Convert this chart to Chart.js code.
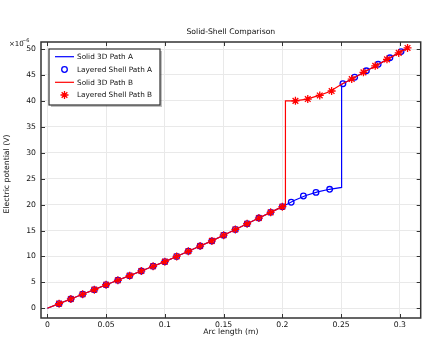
<!DOCTYPE html>
<html>
<head>
<meta charset="utf-8">
<script src="https://cdn.jsdelivr.net/npm/chart.js@4.4.1/dist/chart.umd.min.js"></script>
<style>
  html, body { margin: 0; padding: 0; background: #fff; }
  #wrap { width: 426px; height: 337px; }
</style>
</head>
<body>
<div id="wrap"><canvas id="chart"></canvas></div>
<script>
const FONT = '"DejaVu Sans", "Liberation Sans", sans-serif';

const xTicks = [0, 0.05, 0.1, 0.15, 0.2, 0.25, 0.3];
const yTicks = [0, 5, 10, 15, 20, 25, 30, 35, 40, 45, 50];

// Solid 3D Path A (blue line)
const solidAX = [0, 0.01, 0.02, 0.03, 0.04, 0.05, 0.06, 0.07, 0.08, 0.09, 0.10,
  0.11, 0.12, 0.13, 0.14, 0.15, 0.16, 0.17, 0.18, 0.19, 0.20,
  0.21, 0.22, 0.23, 0.24, 0.2504, 0.2504, 0.26, 0.27, 0.28, 0.29, 0.30, 0.3077];
const solidAY = [0, 0.9, 1.8, 2.7, 3.6, 4.55, 5.4, 6.3, 7.2, 8.1, 9.0,
  10.0, 11.0, 12.0, 13.0, 14.1, 15.2, 16.3, 17.4, 18.5, 19.6,
  20.8, 21.75, 22.45, 22.95, 23.3, 43.2, 44.3, 45.6, 46.8, 48.1, 49.4, 50.35];

// Layered Shell Path A (blue circles)
const shellAX = [0.01, 0.02, 0.03, 0.04, 0.05, 0.06, 0.07, 0.08, 0.09, 0.10,
  0.11, 0.12, 0.13, 0.14, 0.15, 0.16, 0.17, 0.18, 0.19, 0.20,
  0.2075, 0.2179, 0.2286, 0.2402, 0.2515, 0.2615, 0.2715, 0.2815, 0.2915, 0.3010];
const shellAY = [0.9, 1.8, 2.7, 3.6, 4.55, 5.4, 6.3, 7.2, 8.1, 9.0,
  10.0, 11.0, 12.0, 13.0, 14.1, 15.2, 16.3, 17.4, 18.5, 19.6,
  20.45, 21.65, 22.35, 22.95, 43.3, 44.55, 45.8, 47.05, 48.3, 49.5];

// Solid 3D Path B (red line)
const solidBX = [0, 0.01, 0.02, 0.03, 0.04, 0.05, 0.06, 0.07, 0.08, 0.09, 0.10,
  0.11, 0.12, 0.13, 0.14, 0.15, 0.16, 0.17, 0.18, 0.19, 0.20,
  0.2026, 0.2026, 0.21, 0.22, 0.23, 0.24, 0.2504, 0.26, 0.27, 0.28, 0.29, 0.30, 0.3077];
const solidBY = [0, 0.9, 1.8, 2.7, 3.6, 4.55, 5.4, 6.3, 7.2, 8.1, 9.0,
  10.0, 11.0, 12.0, 13.0, 14.1, 15.2, 16.3, 17.4, 18.5, 19.6,
  19.9, 40.0, 40.0, 40.3, 40.95, 41.75, 43.2, 44.3, 45.6, 46.8, 48.1, 49.4, 50.35];

// Layered Shell Path B (red stars)
const shellBX = [0.01, 0.02, 0.03, 0.04, 0.05, 0.06, 0.07, 0.08, 0.09, 0.10,
  0.11, 0.12, 0.13, 0.14, 0.15, 0.16, 0.17, 0.18, 0.19, 0.20,
  0.2111, 0.2216, 0.2318, 0.2419, 0.2590, 0.2690, 0.2790, 0.2890, 0.2990, 0.3065];
const shellBY = [0.9, 1.8, 2.7, 3.6, 4.55, 5.4, 6.3, 7.2, 8.1, 9.0,
  10.0, 11.0, 12.0, 13.0, 14.1, 15.2, 16.3, 17.4, 18.5, 19.6,
  40.0, 40.35, 41.05, 41.9, 44.2, 45.5, 46.75, 48.0, 49.25, 50.2];

const seriesNames = ['Solid 3D Path A', 'Layered Shell Path A', 'Solid 3D Path B', 'Layered Shell Path B'];

function pairs(xs, ys) {
  return xs.map((x, i) => ({ x, y: ys[i] }));
}

const BLUE = '#0000ff';
const RED = '#ff0000';

const frameAndText = {
  id: 'frameAndText',
  afterDraw(chart) {
    const { ctx, chartArea: a, scales } = chart;
    ctx.save();

    // tick marks on all four sides, pointing inward
    ctx.strokeStyle = '#333';
    ctx.lineWidth = 1;
    xTicks.forEach((v) => {
      const px = Math.round(scales.x.getPixelForValue(v)) + 0.5;
      ctx.beginPath();
      ctx.moveTo(px, a.bottom); ctx.lineTo(px, a.bottom - 4);
      ctx.moveTo(px, a.top); ctx.lineTo(px, a.top + 4);
      ctx.stroke();
    });
    yTicks.forEach((v) => {
      const py = Math.round(scales.y.getPixelForValue(v)) + 0.5;
      ctx.beginPath();
      ctx.moveTo(a.left, py); ctx.lineTo(a.left + 4, py);
      ctx.moveTo(a.right, py); ctx.lineTo(a.right - 4, py);
      ctx.stroke();
    });

    // frame
    ctx.strokeStyle = '#333';
    ctx.lineWidth = 1.5;
    ctx.strokeRect(a.left, a.top, a.right - a.left, a.bottom - a.top);

    // texts
    ctx.fillStyle = '#111';
    ctx.textAlign = 'center';
    ctx.textBaseline = 'middle';
    ctx.font = '7.7px ' + FONT;
    ctx.fillText('Solid-Shell Comparison', (a.left + a.right) / 2, 32);
    ctx.fillText('Arc length (m)', (a.left + a.right) / 2, 332);

    ctx.save();
    ctx.translate(7, 174);
    ctx.rotate(-Math.PI / 2);
    ctx.fillText('Electric potential (V)', 0, 0);
    ctx.restore();

    ctx.textAlign = 'left';
    ctx.font = '7px ' + FONT;
    ctx.fillText('×10', 9, 44);
    ctx.font = '5px ' + FONT;
    ctx.fillText('−6', 22, 41);

    // legend box
    const lx = 49, ly = 49, lw = 111, lh = 56;
    ctx.fillStyle = 'rgba(0,0,0,0.25)';
    ctx.fillRect(lx + 2, ly + 2, lw, lh);
    ctx.fillStyle = '#fff';
    ctx.fillRect(lx, ly, lw, lh);
    ctx.strokeStyle = '#333';
    ctx.lineWidth = 1.2;
    ctx.strokeRect(lx, ly, lw, lh);

    const rows = [56.7, 69.5, 82.3, 95];
    chart.data.datasets.forEach((ds, i) => {
      const ry = rows[i];
      if (ds.showLine) {
        ctx.strokeStyle = ds.borderColor;
        ctx.lineWidth = 1.2;
        ctx.beginPath();
        ctx.moveTo(55, ry); ctx.lineTo(74, ry);
        ctx.stroke();
      } else {
        ctx.fillStyle = ds.backgroundColor;
        ctx.strokeStyle = ds.borderColor;
        ctx.lineWidth = ds.pointBorderWidth;
        Chart.helpers.drawPoint(ctx, {
          pointStyle: ds.pointStyle,
          radius: ds.pointRadius,
          borderWidth: ds.pointBorderWidth,
          rotation: 0
        }, 64.5, ry);
      }
      ctx.fillStyle = '#111';
      ctx.font = '7.3px ' + FONT;
      ctx.textAlign = 'left';
      ctx.fillText(ds.label, 77, ry + 0.5);
    });

    ctx.restore();
  }
};

new Chart(document.getElementById('chart'), {
  type: 'scatter',
  data: {
    datasets: [
      {
        label: seriesNames[0], data: pairs(solidAX, solidAY), showLine: true,
        borderColor: BLUE, borderWidth: 1.2, pointRadius: 0, order: 3
      },
      {
        label: seriesNames[1], data: pairs(shellAX, shellAY), showLine: false,
        borderColor: BLUE, backgroundColor: 'rgba(0,0,0,0)', pointStyle: 'circle',
        pointRadius: 2.8, pointBorderWidth: 1.3, order: 2
      },
      {
        label: seriesNames[2], data: pairs(solidBX, solidBY), showLine: true,
        borderColor: RED, borderWidth: 1.2, pointRadius: 0, order: 1
      },
      {
        label: seriesNames[3], data: pairs(shellBX, shellBY), showLine: false,
        borderColor: RED, backgroundColor: RED, pointStyle: 'star',
        pointRadius: 4, pointBorderWidth: 1.3, order: 0
      }
    ]
  },
  options: {
    responsive: true,
    maintainAspectRatio: false,
    animation: false,
    layout: { padding: { top: 42, right: 4, left: 0, bottom: 0 } },
    plugins: {
      legend: { display: false },
      tooltip: { enabled: false }
    },
    scales: {
      x: {
        type: 'linear',
        min: -0.0054,
        max: 0.3177,
        afterBuildTicks: (s) => { s.ticks = xTicks.map((v) => ({ value: v })); },
        afterFit: (s) => { s.height = 19; },
        grid: { color: '#e9e9e9', drawTicks: false },
        border: { display: false },
        ticks: {
          padding: 2,
          color: '#111',
          font: { family: FONT, size: 7.7 },
          maxRotation: 0,
          callback: (v) => String(Math.round(v * 100) / 100)
        }
      },
      y: {
        type: 'linear',
        min: -1.87,
        max: 51.35,
        afterBuildTicks: (s) => { s.ticks = yTicks.map((v) => ({ value: v })); },
        afterFit: (s) => { s.width = 41; },
        grid: { color: '#e9e9e9', drawTicks: false },
        border: { display: false },
        ticks: {
          padding: 5,
          color: '#111',
          font: { family: FONT, size: 7.7 },
          callback: (v) => String(v)
        }
      }
    }
  },
  plugins: [frameAndText]
});
</script>
</body>
</html>
